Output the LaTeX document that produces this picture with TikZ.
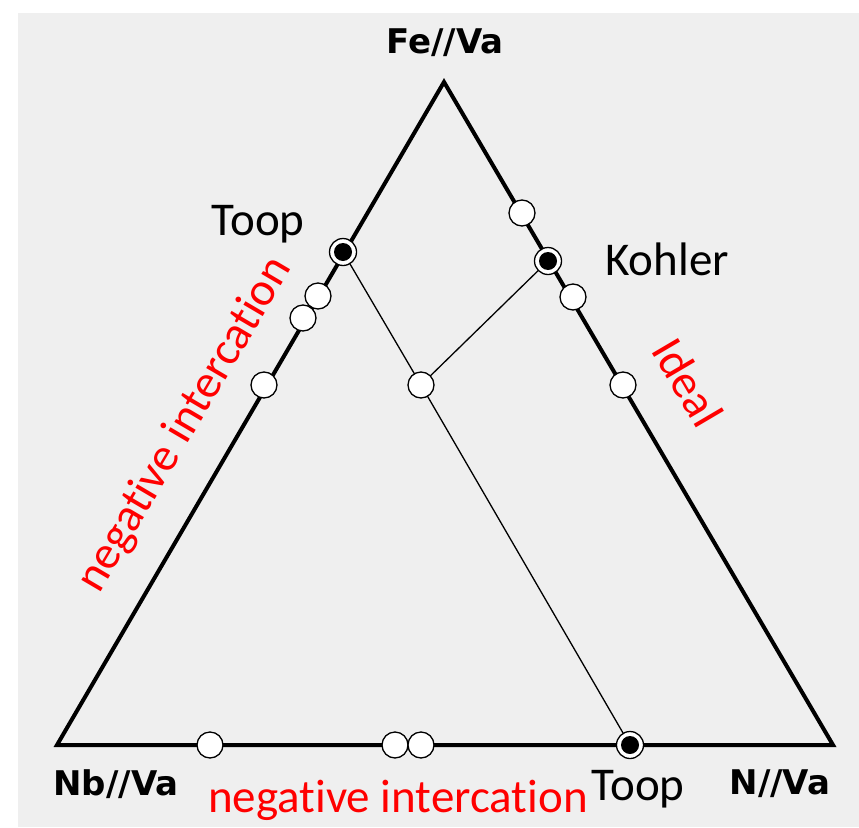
\documentclass[tikz,border=0pt]{standalone}
\usepackage{fontspec}
\setmainfont[Ligatures=NoCommon,RawFeature={-liga;-calt;-dlig}]{Carlito}
\newfontfamily\cornerfont{DejaVu Sans}
\newcommand{\nolig}{\kern0pt\relax}
\begin{document}
\begin{tikzpicture}[x=1pt,y=-1pt,
  edge/.style={line width=4pt,line join=miter},
  tie/.style={line width=1.3pt},
  wpt/.style={circle,draw=black,line width=1.3pt,fill=white,minimum size=26pt,inner sep=0pt},
  bpt/.style={circle,draw=black,line width=1.3pt,fill=white,minimum size=27pt,inner sep=0pt,
    path picture={\fill[black] (path picture bounding box.center) circle (9pt);}},
  lab/.style={font=\fontsize{47}{54}\selectfont,inner sep=0pt},
  rlab/.style={lab,text=red},
  corner/.style={font=\cornerfont\bfseries\fontsize{34}{40}\selectfont,inner sep=0pt}]
\useasboundingbox (0,0) rectangle (859,827);
\fill[fill={rgb,255:red,239;green,239;blue,239}] (18,13) rectangle (859,827);
\coordinate (top) at (444,82);
\coordinate (bl) at (57,745);
\coordinate (br) at (833,745);
\draw[edge] (top) -- (bl) -- (br) -- cycle;
\coordinate (ti) at (343,252);
\coordinate (ki) at (548,261);
\coordinate (ci) at (421,385);
\coordinate (bi) at (630,745);
\draw[tie] (ti) -- (ci) -- (bi);
\draw[tie] (ki) -- (ci);
% left side
\node[wpt] (l1) at (318,296) {};
\node[wpt] (l2) at (303,318) {};
\node[wpt] (l3) at (264,385) {};
% right side
\node[wpt] (r1) at (522,213) {};
\node[wpt] (r2) at (573,297) {};
\node[wpt] (r3) at (623,385) {};
% interior
\node[wpt] (c) at (ci) {};
% bottom
\node[wpt] (b1) at (210,745) {};
\node[wpt] (b2) at (395,745) {};
\node[wpt] (b3) at (421,745) {};
% black points
\node[bpt] (tp) at (ti) {};
\node[bpt] (kp) at (ki) {};
\node[bpt] (bp) at (bi) {};
% labels
\node[corner] (fe) at (445,43) {Fe//Va};
\node[corner] (nb) at (116,784) {Nb//Va};
\node[corner] (nn) at (780,784) {N//Va};
\node[lab] (toop1) at (258,224) {Toop};
\node[lab] (kohler) at (667,259) {Kohler};
\node[lab] (toop2) at (638,789) {Toop};
\node[rlab,rotate=-59.5] (ideal) at (688,382) {Ideal};
\node[rlab,rotate=59.5] (neg1) at (185,425) {negat\nolig ive intercat\nolig ion};
\node[rlab] (neg2) at (398,800) {negat\nolig ive intercat\nolig ion};
\end{tikzpicture}
\end{document}
